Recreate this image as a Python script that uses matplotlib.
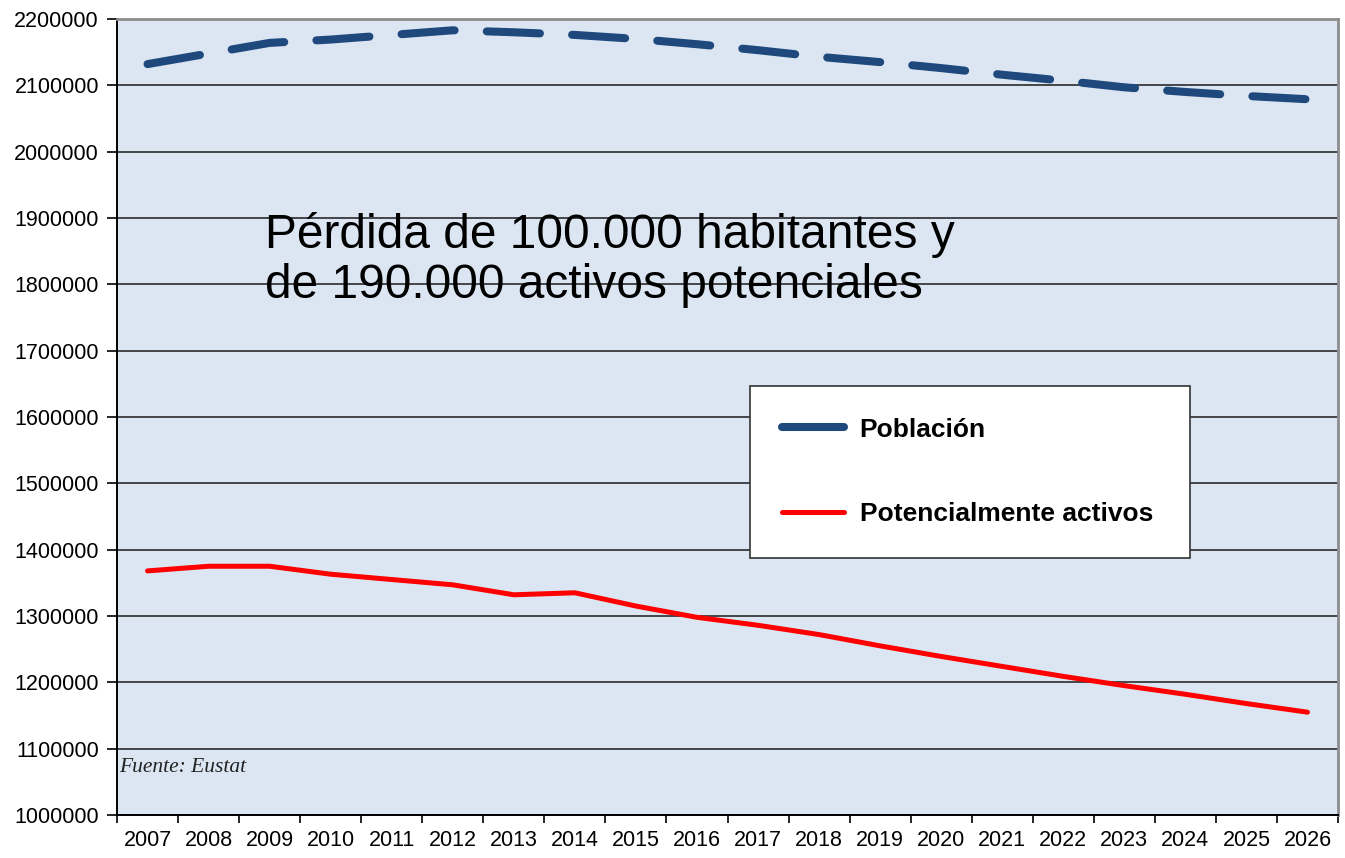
import matplotlib
matplotlib.use("Agg")
import matplotlib.pyplot as plt
from matplotlib.lines import Line2D
from matplotlib.ticker import FixedLocator, NullFormatter, FuncFormatter

# Proyección de población de la C.A. de Euskadi (Eustat)
anios = [2007, 2008, 2009, 2010, 2011, 2012, 2013, 2014, 2015, 2016,
         2017, 2018, 2019, 2020, 2021, 2022, 2023, 2024, 2025, 2026]
poblacion = [2132000, 2148000, 2164000, 2169000, 2176000, 2183000, 2180000,
             2176000, 2170000, 2162000, 2153000, 2143000, 2135000, 2126000,
             2116000, 2107000, 2097000, 2090000, 2084000, 2079000]
potencialmente_activos = [1368000, 1375000, 1375000, 1363000, 1355000,
                          1347000, 1332000, 1335000, 1315000, 1298000,
                          1286000, 1272000, 1255000, 1239000, 1224000,
                          1209000, 1195000, 1182000, 1168000, 1155000]
ticks_y = list(range(1000000, 2200001, 100000))

azul = "#1F497D"
rojo = "#FF0000"
fondo = "#DCE6F2"

plt.rcParams["font.family"] = ["Liberation Sans", "DejaVu Sans"]

fig = plt.figure(figsize=(13.45, 8.58), dpi=100)
ax = fig.add_axes([117 / 1345, 43 / 858, 1221 / 1345, 796 / 858])
ax.set_facecolor(fondo)

ax.plot(anios, poblacion, color=azul, lw=5.8, linestyle=(0, (6.6, 4.0)),
        dash_capstyle="round", solid_capstyle="round", zorder=3)
ax.plot(anios, potencialmente_activos, color=rojo, lw=3.6,
        solid_capstyle="round", solid_joinstyle="round", zorder=3)

ax.set_xlim(anios[0] - 0.5, anios[-1] + 0.5)
ax.set_ylim(ticks_y[0], ticks_y[-1])

# eje x: marcas entre categorías, etiquetas centradas
ax.xaxis.set_major_locator(FixedLocator([a - 0.5 for a in anios] + [anios[-1] + 0.5]))
ax.xaxis.set_major_formatter(NullFormatter())
ax.xaxis.set_minor_locator(FixedLocator(anios))
ax.xaxis.set_minor_formatter(FuncFormatter(lambda v, p: f"{int(round(v))}"))
ax.tick_params(axis="x", which="major", direction="out", length=6, width=1.2, color="black")
ax.tick_params(axis="x", which="minor", length=0, pad=11, labelsize=15.5)

ax.set_yticks(ticks_y)
ax.yaxis.set_major_formatter(FuncFormatter(lambda v, p: f"{int(v)}"))
ax.tick_params(axis="y", direction="out", length=7, width=1.2, pad=6, labelsize=15.5)

ax.grid(axis="y", color="#1a1a1a", lw=1.1)
ax.set_axisbelow(True)

ax.spines["left"].set_color("black")
ax.spines["bottom"].set_color("black")
ax.spines["left"].set_linewidth(1.4)
ax.spines["bottom"].set_linewidth(1.4)
for lado in ("top", "right"):
    ax.spines[lado].set_color("#8c8c8c")
    ax.spines[lado].set_linewidth(2)

ax.text(0.121, 0.697, "Pérdida de 100.000 habitantes y\nde 190.000 activos potenciales",
        transform=ax.transAxes, fontsize=34.5, va="center", ha="left",
        linespacing=1.15, color="black")

ax.text(0.002, 0.0535, "Fuente: Eustat", transform=ax.transAxes,
        family=["Liberation Serif", "DejaVu Serif"], style="italic",
        fontsize=15.5, va="baseline", ha="left", color="#222222")

manejadores = [Line2D([], [], color=azul, lw=5.8, solid_capstyle="round"),
               Line2D([], [], color=rojo, lw=3.6, solid_capstyle="round")]
leyenda = ax.legend(manejadores, ["Población", "Potencialmente activos"],
                    loc="upper left",
                    bbox_to_anchor=(750 / 1345, 1 - 554 / 858, 440 / 1345, 168 / 858),
                    bbox_transform=fig.transFigure, mode="expand", fancybox=False,
                    framealpha=1, edgecolor="#333333", borderpad=1.2,
                    labelspacing=2.29, handlelength=2.35, handletextpad=0.6,
                    borderaxespad=0, prop={"weight": "bold", "size": 19})
leyenda.get_frame().set_linewidth(1.2)

fig.savefig("out.png", dpi=100, facecolor="white")
